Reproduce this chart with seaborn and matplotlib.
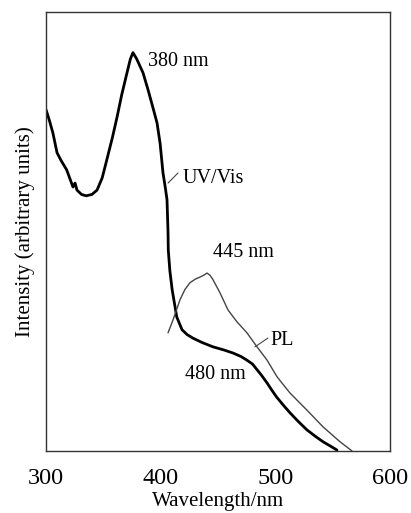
import numpy as np
import matplotlib
matplotlib.use("Agg")
import matplotlib.pyplot as plt
import seaborn as sns

sns.set_style("white")
plt.rcParams["font.family"] = ["Liberation Serif", "DejaVu Serif"]
plt.rcParams["text.color"] = "black"
plt.rcParams["axes.labelcolor"] = "black"

# UV/Vis absorption (thick black)
uv_wl = [300, 303, 306, 309.6, 313, 318, 323.5, 325.3, 327, 331, 335, 340, 344.5,
         349, 353, 358, 362, 366, 370.6, 373.5, 375.8, 379, 384.6, 389, 393,
         396.8, 399.5, 402, 404, 405.5, 406.4, 406.6, 408, 410, 414, 418.6,
         423, 428, 436, 445.6, 455, 463, 470, 475, 480, 484, 488, 492.7, 497,
         501, 507, 512.7, 520, 527.5, 535, 541.5, 548, 553.7]
uv_int = [0.777, 0.752, 0.724, 0.679, 0.662, 0.640, 0.601, 0.610, 0.594, 0.584,
          0.581, 0.584, 0.594, 0.622, 0.663, 0.715, 0.761, 0.811, 0.861, 0.892,
          0.907, 0.893, 0.861, 0.822, 0.784, 0.747, 0.700, 0.633, 0.600, 0.572,
          0.497, 0.458, 0.410, 0.367, 0.305, 0.276, 0.265, 0.257, 0.247, 0.237,
          0.230, 0.223, 0.215, 0.207, 0.198, 0.185, 0.172, 0.155, 0.138, 0.123,
          0.104, 0.087, 0.067, 0.048, 0.033, 0.021, 0.011, 0.002]

# photoluminescence (thin grey)
pl_wl = [406.4, 410.7, 416.8, 421, 425.5, 430, 434.3, 437.5, 440.4, 443,
         445.6, 451.7, 458.7, 466.5, 475.2, 484, 492.7, 501.4, 512.7, 527.5,
         541.5, 556.3, 566.8]
pl_int = [0.269, 0.298, 0.344, 0.367, 0.383, 0.391, 0.396, 0.400, 0.405, 0.400,
          0.390, 0.360, 0.321, 0.294, 0.269, 0.237, 0.207, 0.169, 0.132, 0.093,
          0.055, 0.021, 0.0]

x_ticks = [300, 400, 500, 600]

fig = plt.figure(figsize=(4.11, 5.13), dpi=100)
ax = fig.add_axes([0.112, 0.121, 0.837, 0.856])

sns.lineplot(x=uv_wl, y=uv_int, ax=ax, color="black", linewidth=2.0, sort=False)
sns.lineplot(x=pl_wl, y=pl_int, ax=ax, color="#444444", linewidth=1.0, sort=False)

ax.set_xlim(300, 600)
ax.set_ylim(0, 1)
ax.set_xticks(x_ticks)
ax.set_xticklabels([str(t) for t in x_ticks])
ax.set_yticks([])
ax.tick_params(axis="x", direction="inout", length=15, width=1, pad=5,
               labelsize=17.5, colors="black")

for s in ax.spines.values():
    s.set_color("#333333")
    s.set_linewidth(1.0)

ax.set_xlabel("Wavelength/nm", fontsize=15, labelpad=2)
ax.set_ylabel("Intensity (arbitrary units)", fontsize=15, labelpad=8)

ax.text(388.9, 0.886, "380 nm", fontsize=14.5, ha="left", va="center")
ax.text(419.4, 0.620, "UV/Vis", fontsize=14.5, ha="left", va="center")
ax.plot([406.4, 415.1], [0.610, 0.633], color="#444444", linewidth=0.8)
ax.text(445.6, 0.453, "445 nm", fontsize=14.5, ha="left", va="center")
ax.text(495.3, 0.251, "PL", fontsize=14.5, ha="left", va="center")
ax.plot([482.2, 493.5], [0.237, 0.257], color="#444444", linewidth=0.8)
ax.text(421.2, 0.173, "480 nm", fontsize=14.5, ha="left", va="center")

fig.savefig("out.png", dpi=100)
